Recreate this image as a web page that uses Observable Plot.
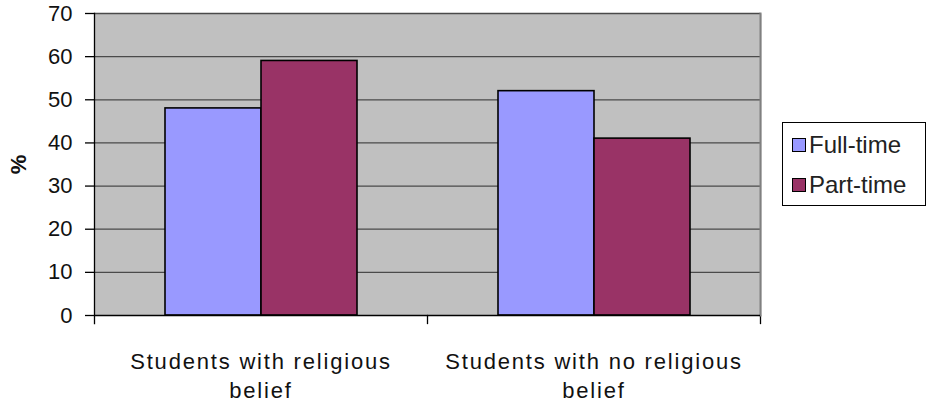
<!DOCTYPE html>
<html>
<head>
<meta charset="utf-8">
<script src="https://cdn.jsdelivr.net/npm/d3@7"></script>
<script src="https://cdn.jsdelivr.net/npm/@observablehq/plot@0.6"></script>
<style>
  html, body { margin: 0; padding: 0; background: #fff; }
  #wrap { position: relative; width: 927px; height: 405px; font-family: "Liberation Sans", Arial, sans-serif; }
  #wrap svg { position: absolute; left: 0; top: 0; }
  g[aria-label="fx-axis tick label"] text { letter-spacing: 1.8px; }
  g[aria-label="y-axis label"] text { font-weight: bold; }
  #legend { position: absolute; left: 782px; top: 122px; width: 142px; height: 82px; border: 1px solid #000; background: #fff; box-sizing: content-box; }
  .item { position: absolute; left: 9px; height: 26px; display: flex; align-items: center; font-size: 24px; color: #222; }
  .sw { width: 12px; height: 12px; border: 1px solid #000; margin-right: 3px; }
</style>
</head>
<body>
<div id="wrap"></div>
<script>
const categories = ["Students with religious belief", "Students with no religious belief"];
const series = ["Full-time", "Part-time"];
const fullTime = [48, 52];
const partTime = [59, 41];
const yTicks = [0, 10, 20, 30, 40, 50, 60, 70];
const colors = ["#9999ff", "#993366"];

const data = [];
categories.forEach((c, i) => {
  data.push({category: c, series: series[0], value: fullTime[i]});
  data.push({category: c, series: series[1], value: partTime[i]});
});

const W = 927, H = 405, mL = 94, mR = 167, mT = 13, mB = 90;
const plotH = H - mT - mB;

const chart = Plot.plot({
  width: W, height: H,
  marginLeft: mL, marginRight: mR, marginTop: mT, marginBottom: mB,
  style: {fontFamily: "'Liberation Sans', Arial, sans-serif", background: "transparent", color: "#111"},
  fx: {domain: categories, padding: 0, axis: null},
  x: {domain: series, paddingInner: 0, paddingOuter: 0.725, axis: null},
  y: {domain: [0, 70], axis: null},
  color: {domain: series, range: colors},
  marks: [
    Plot.frame({fill: "#c0c0c0", insetRight: -1}),
    Plot.ruleY(yTicks.filter(d => d > 0), {stroke: "#4a4a4a", strokeWidth: 1.3}),
    Plot.barY(data, {fx: "category", x: "series", y: "value", fill: "series", stroke: "#000", strokeWidth: 1.6}),
    Plot.frame({anchor: "right", stroke: "#000", strokeWidth: 1.3, insetTop: plotH, insetBottom: -8}),
    Plot.frame({anchor: "right", stroke: "#808080", strokeWidth: 2, fx: [categories[1]]}),
    Plot.frame({anchor: "left", stroke: "#000", strokeWidth: 1.3, insetBottom: -8, fx: [categories[0]]}),
    Plot.ruleY([0], {stroke: "#000", strokeWidth: 1.6}),
    Plot.axisY({ticks: yTicks, tickSize: 9, tickPadding: 13, fontSize: 22, stroke: "#000", strokeWidth: 1.3,
      label: "%", labelAnchor: "center", labelArrow: "none", labelOffset: 84}),
    Plot.axisFx({anchor: "bottom", tickSize: 0, tickPadding: 33, fontSize: 22, lineHeight: 1.32, label: null,
      tickFormat: d => d.replace(/ belief$/, "\nbelief")})
  ]
});

const wrap = document.getElementById("wrap");
wrap.appendChild(chart);

const legend = document.createElement("div");
legend.id = "legend";
series.forEach((s, i) => {
  const it = document.createElement("div");
  it.className = "item";
  it.style.top = (i === 0 ? 9 : 49) + "px";
  const sw = document.createElement("div");
  sw.className = "sw";
  sw.style.background = colors[i];
  const t = document.createElement("span");
  t.textContent = s;
  it.appendChild(sw);
  it.appendChild(t);
  legend.appendChild(it);
});
wrap.appendChild(legend);
</script>
</body>
</html>
